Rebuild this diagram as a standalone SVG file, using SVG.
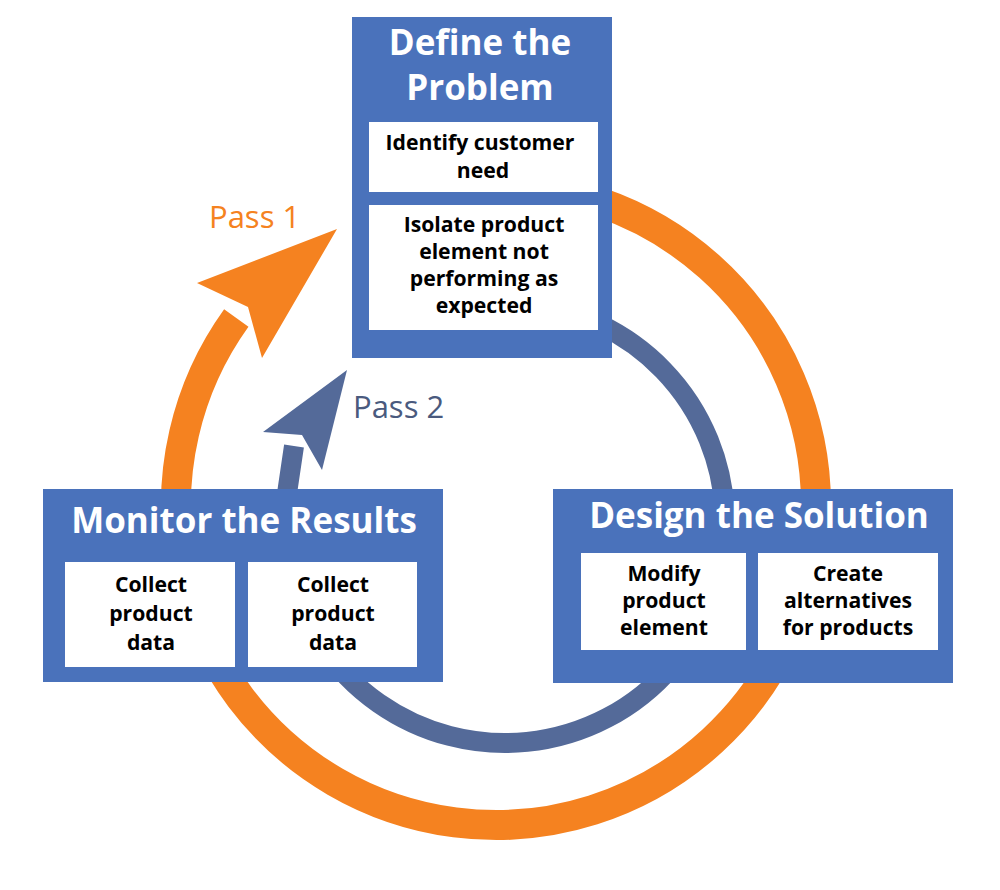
<svg xmlns="http://www.w3.org/2000/svg" width="1000" height="890" viewBox="0 0 1000 890">
<style>
.box{fill:#4a72bb;}
.inner{fill:#ffffff;}
.title{font-family:"Open Sans","Noto Sans",sans-serif;font-weight:700;fill:#ffffff;text-anchor:middle;font-size:35px;}
.txt{font-family:"Open Sans","Noto Sans",sans-serif;font-weight:700;fill:#000000;text-anchor:middle;font-size:21.2px;}
.pass{font-family:"Open Sans","Noto Sans",sans-serif;font-size:31px;}
</style>
<rect width="1000" height="890" fill="#ffffff"/>
<g id="connectors">
<path id="pass1-ring" d="M 600 202.4 A 320 320 0 1 1 236.3 318" fill="none" stroke="#f58220" stroke-width="30"/>
<polygon id="pass1-head" points="337,229 197,283 248,307 262,358" fill="#f58220"/>
<path id="pass2-ring" d="M 600 324.6 A 220 220 0 1 1 287.8 488 L 294 446" fill="none" stroke="#546a99" stroke-width="20"/>
<polygon id="pass2-head" points="347,370 263,432 302,435 322,470" fill="#546a99"/>
<text class="pass" x="209" y="228" fill="#f58220">Pass 1</text>
<text class="pass" x="353" y="418" fill="#4a5a7e">Pass 2</text>
</g>
<g id="define">
<rect class="box" x="352" y="17" width="260" height="341"/>
<text class="title" x="480" y="55">Define the<tspan x="480" dy="45">Problem</tspan></text>
<rect class="inner" x="369" y="122" width="229" height="70"/>
<text class="txt" x="480" y="150" font-size="20.5">Identify customer<tspan x="483" dy="28">need</tspan></text>
<rect class="inner" x="369" y="205" width="229" height="125"/>
<text class="txt" x="484" y="232">Isolate product<tspan x="484" dy="27">element not</tspan><tspan x="484" dy="27">performing as</tspan><tspan x="484" dy="27">expected</tspan></text>
</g>
<g id="monitor">
<rect class="box" x="43" y="489" width="400" height="193"/>
<text class="title" x="244" y="533">Monitor the Results</text>
<rect class="inner" x="65" y="562" width="170" height="105"/>
<text class="txt" x="151" y="592" font-size="23">Collect<tspan x="151" dy="29">product</tspan><tspan x="151" dy="29">data</tspan></text>
<rect class="inner" x="248" y="562" width="169" height="105"/>
<text class="txt" x="333" y="592" font-size="23">Collect<tspan x="333" dy="29">product</tspan><tspan x="333" dy="29">data</tspan></text>
</g>
<g id="design">
<rect class="box" x="553" y="489" width="400" height="194"/>
<text class="title" x="759" y="528">Design the Solution</text>
<rect class="inner" x="581" y="553" width="165" height="97"/>
<text class="txt" x="664" y="581">Modify<tspan x="664" dy="27">product</tspan><tspan x="664" dy="27">element</tspan></text>
<rect class="inner" x="758" y="553" width="180" height="97"/>
<text class="txt" x="848" y="581">Create<tspan x="848" dy="27">alternatives</tspan><tspan x="848" dy="27">for products</tspan></text>
</g>
</svg>
